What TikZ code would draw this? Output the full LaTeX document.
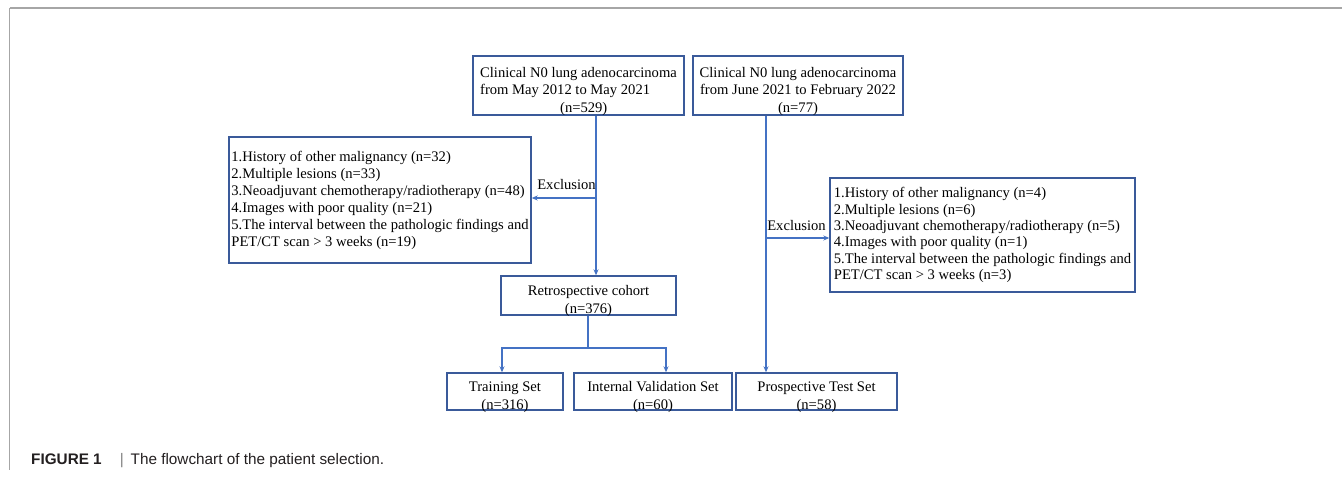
\documentclass[tikz,border=0pt]{standalone}
\usepackage{fontspec}
\setmainfont{Liberation Serif}
\newfontfamily\capfont{Liberation Sans}
\usepackage{xcolor}
\usetikzlibrary{arrows.meta}
\definecolor{frame}{HTML}{3A5A9A}
\definecolor{flow}{HTML}{4472C4}
\definecolor{rule}{HTML}{A6A6A6}
\definecolor{capink}{HTML}{231F20}

\begin{document}
\begin{tikzpicture}[x=1pt,y=-1pt,
  every node/.style={font=\fontsize{14.6}{17.5}\selectfont},
  box/.style={draw=frame,line width=1.4pt,inner xsep=2pt,inner ysep=0pt},
  low/.style args={#1/#2}{text height=#1,text depth=#2},
  flowline/.style={draw=flow,line width=1.2pt},
  arr/.style={flowline,-{Stealth[length=6pt,width=5pt]}}]
  \useasboundingbox (0,0) rectangle (1342,477);
  \draw[rule,line width=1.2pt] (9.5,8) -- (1342,8);
  \draw[rule,line width=1pt] (9.5,8) -- (9.5,470);
  % two source cohorts
  \node[box,low=56pt/3pt,align=left,minimum width=211pt,minimum height=59pt] (retro) at (578.5,85.5) {Clinical N0 lung adenocarcinoma\\from May 2012 to May 2021\\\hspace*{80pt}(n=529)};
  \node[box,low=56pt/3pt,align=center,minimum width=210pt,minimum height=59pt] (prosp) at (798,85.5) {Clinical N0 lung adenocarcinoma\\from June 2021 to February 2022\\(n=77)};
  % exclusion boxes
  \node[box,align=left,minimum width=302pt,minimum height=126pt,font=\fontsize{14.6}{17}\selectfont] (exl) at (380,200) {1.History of other malignancy (n=32)\\2.Multiple lesions (n=33)\\3.Neoadjuvant chemotherapy/radiotherapy (n=48)\\4.Images with poor quality (n=21)\\5.The interval between the pathologic findings and\\PET/CT scan > 3 weeks (n=19)};
  \node[box,align=left,minimum width=305pt,minimum height=114pt,font=\fontsize{14.6}{16.3}\selectfont] (exr) at (982.5,235) {1.History of other malignancy (n=4)\\2.Multiple lesions (n=6)\\3.Neoadjuvant chemotherapy/radiotherapy (n=5)\\4.Images with poor quality (n=1)\\5.The interval between the pathologic findings and\\PET/CT scan > 3 weeks (n=3)};
  % cohorts and sets
  \node[box,low=37.5pt/1.5pt,align=center,minimum width=175pt,minimum height=39pt,font=\fontsize{14.6}{18}\selectfont] (cohort) at (588.5,295.5) {Retrospective cohort\\(n=376)};
  \node[box,low=36.25pt/0.75pt,align=center,minimum width=116pt,minimum height=37pt] (train) at (505,391.5) {Training Set\\(n=316)};
  \node[box,low=36.25pt/0.75pt,align=center,minimum width=158pt,minimum height=37pt] (valid) at (653,391.5) {Internal Validation Set\\(n=60)};
  \node[box,low=36.25pt/0.75pt,align=center,minimum width=161pt,minimum height=37pt] (test) at (816.5,391.5) {Prospective Test Set\\(n=58)};
  % junctions
  \coordinate (jl) at (596,198);
  \coordinate (jr) at (766,238);
  \coordinate (js) at (588,348);
  \coordinate (sl) at (502,348);
  \coordinate (sr) at (666,348);
  \draw[flowline] (retro.south -| jl) -- (jl);
  \draw[arr] (jl) -- (exl.east |- jl);
  \draw[arr] (jl) -- (cohort.north -| jl);
  \draw[flowline] (prosp.south -| jr) -- (jr);
  \draw[arr] (jr) -- (exr.west |- jr);
  \draw[arr] (jr) -- (test.north -| jr);
  \draw[flowline] (cohort.south -| js) -- (js);
  \draw[arr] (js) -- (sl) -- (train.north -| sl);
  \draw[arr] (js) -- (sr) -- (valid.north -| sr);
  \node (exla) at (566.5,185) {Exclusion};
  \node (exra) at (796.5,226) {Exclusion};
  % caption
  \node[anchor=base west,inner sep=0pt,font=\capfont\fontsize{15.3}{18}\selectfont,text=capink] (caption) at (31,464) {\textbf{FIGURE 1}\hspace{18pt}{\color{gray}|}\hspace{7pt}The flowchart of the patient selection.};
\end{tikzpicture}
\end{document}
